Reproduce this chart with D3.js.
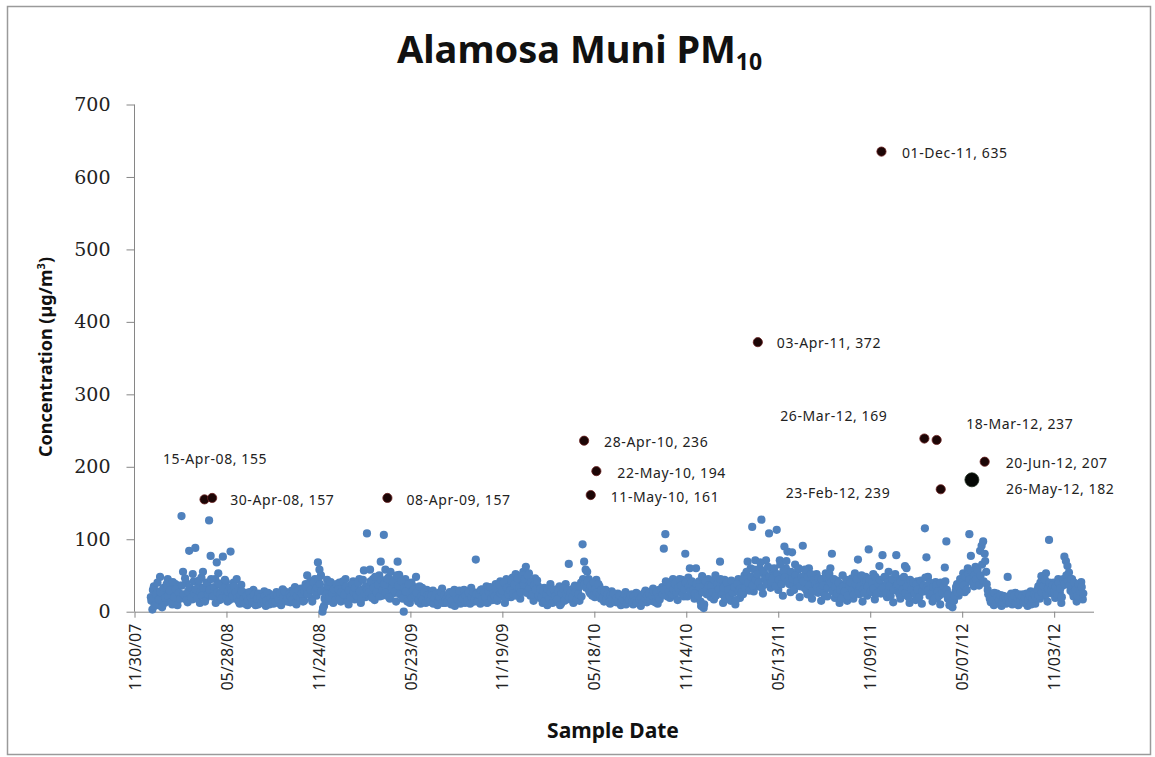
<!DOCTYPE html>
<html><head><meta charset="utf-8">
<script src="https://cdn.jsdelivr.net/npm/d3@7"></script>
<style>body{margin:0;background:#fff}svg{display:block}</style>
</head><body><svg id="c" width="1155" height="757"></svg>
<script>
// ---- data: PM10 samples (µg/m³); set A every 3 days from 1 Jan, set B every 3 days from 2 Jan ----
const pm2008=[20,3,35,14,28,9,48,22,31,12,26, 45,18,33,10,27,38,15,24,36, 132,55,21,40,13,84,30,17,42,88, 25,35,12,47,55,28,19,38,126,77, 30,22,45,68,53,16,36,76,27,41,14, 33,83,24,40,18,45,29,11,37, 20,14,26,9,18,23,12,30,16,21,10, 17,24,13,28,8,19,25,15,22,11, 18,27,12,21,9,31,16,23,14,26, 13,29,19,34,10,24,17,32,22,15,38, 50,26,42,18,35,45,22,68,58,50, 0,8,30,44,15,27,38,12,33,21];
const pm2009=[25,40,14,33,19,45,28,10,36,22,42, 17,38,26,45,12,31,57,20,108, 35,58,24,45,16,40,29,50,69,22, 106,58,33,47,18,38,25,44,14,69, 51,27,36,0,45,20,31,12,40,23,34, 48,19,28,11,33,22,15,30,18, 24,13,29,17,21,9,26,15,32,19,12, 22,16,27,10,20,30,14,24,18,11, 25,19,12,28,21,16,33,23,14,72, 20,27,11,31,17,24,35,13,22,29,16, 26,38,15,30,42,21,34,12,45,28, 36,20,47,31,52,25,40,18,44,55];
const pm2010=[30,62,42,53,22,38,15,46,27,35,19, 28,12,33,20,9,26,38,16,24, 14,31,21,35,11,27,18,38,23,66, 17,29,12,36,22,30,15,40,93,69, 58,55,45,25,38,32,20,44,28,35,18, 26,14,30,19,23,11,28,16,21, 13,25,18,9,22,15,27,12,20,17,24, 10,19,26,14,21,8,23,16,29,13, 20,27,15,32,18,24,11,30,22,34, 87,107,25,38,19,33,45,22,40,16,36, 28,44,21,80,35,47,60,26,39,18, 60,31,42,14,49,5,37,24,45,30];
const pm2011=[20,41,17,50,33,26,69,38,12,44,29, 22,36,15,40,27,10,33,45,19, 38,24,50,31,69,43,60,117,28,71, 46,35,60,127,25,52,71,40,108,33, 55,42,37,113,30,71,48,22,90,60,83, 50,27,82,44,65,36,58,20,47, 91,33,55,24,60,41,18,49,30,52,26, 38,15,45,28,53,21,40,60,80,34, 19,43,26,12,37,50,23,31,15,41, 28,46,18,53,33,72,24,40,14,35,48, 22,86,39,27,52,17,44,31,63,25, 78,36,47,20,55,30,42,13,38,78];
const pm2012=[29,45,18,34,23,63,60,40,12,37,26, 31,16,42,24,35,11,28,115,75, 48,22,36,14,30,41,19,27,10,33, 25,61,97,18,9,13,6,15,28,38, 22,45,31,53,27,40,60,107,77,48,35, 62,50,44,84,91,97,80,55,30, 24,13,20,9,17,25,12,19,8,22,15, 11,48,18,23,10,16,26,14,9,20, 17,24,12,21,8,15,28,13,19,11, 26,35,18,49,30,22,53,14,99,38,25, 40,19,33,45,27,12,36,76,70,63, 54,29,45,21,38,14,32,24,41,17];
const pm2008b=[15,30,8,24,40,17,27,6,33,19,38, 22,29,13,41,20,31,9,26,18, 36,24,46,16,28,34,20,52,25,31, 18,43,27,22,33,14,40,24,30,45, 21,34,12,27,39,24,18,32,44,20,28, 16,30,22,35,26,19,14,23,28, 17,11,22,15,27,19,13,24,9,18,25, 20,12,17,22,15,26,10,19,13,23, 14,22,17,25,12,20,28,15,19,24, 21,16,27,12,22,30,19,25,14,28,33, 24,36,30,14,40,28,33,45,38,28, 5,18,24,36,20,41,26,31,16,38];
const pm2009b=[31,18,27,42,23,35,14,29,20,38,26, 33,22,40,28,18,44,25,35,30, 27,42,19,33,48,26,37,21,44,30, 38,26,45,20,55,32,41,28,50,36, 24,42,18,33,28,14,38,25,19,30,22, 26,14,35,21,17,27,12,23,20, 15,22,11,19,25,14,20,28,12,23,17, 13,24,19,15,27,8,21,17,29,14, 18,30,22,15,26,11,20,27,17,24, 14,23,30,18,26,20,12,28,34,19,25, 21,32,19,37,25,29,40,18,33,24, 29,43,25,38,22,46,33,27,50,37];
const pm2010b=[45,26,50,33,41,24,36,30,43,22,31, 20,29,15,24,31,18,27,12,30, 22,17,28,9,25,32,15,24,30,19, 26,20,33,27,17,24,35,21,45,38, 33,42,28,36,22,40,31,26,38,24,30, 20,27,16,24,13,22,18,25,14, 19,15,22,13,17,24,10,20,16,23,14, 21,15,12,24,17,20,13,26,18,22, 25,16,22,28,13,26,20,17,29,24, 30,42,21,28,36,24,31,39,27,33,45, 36,24,31,40,21,35,28,42,30,25, 38,22,34,8,27,10,42,30,36,26];
const pm2011b=[35,27,44,22,38,31,45,24,33,18,40, 30,21,43,26,34,16,38,28,32, 27,45,33,55,40,29,48,36,58,44, 52,40,68,33,56,45,38,62,48,41, 46,60,35,52,44,65,38,56,47,70,42, 38,55,45,30,50,42,60,35,48, 42,58,30,48,36,52,28,44,38,33,46, 30,44,36,22,48,33,52,40,28,45, 34,25,40,30,18,35,28,44,22,36, 40,30,24,38,45,28,35,50,31,26,42, 35,45,28,40,32,48,25,38,44,30, 33,48,26,40,35,22,45,30,52,36];
const pm2012b=[38,24,42,30,48,26,35,20,44,31,40, 25,38,30,20,43,28,36,47,33, 30,40,25,34,18,36,28,22,40,26, 35,42,30,24,12,8,16,22,34,27, 33,28,40,36,48,30,52,44,56,40,50, 45,58,36,50,65,42,70,38,24, 18,22,15,26,11,20,16,23,13,19,21, 16,20,13,25,17,22,12,19,24,15, 21,14,19,25,16,22,10,18,24,20, 30,22,40,27,35,44,24,32,40,29,36, 28,35,24,40,32,20,45,38,50,42, 36,45,26,40,30,22,38,28,34,25];
const sampleYears=[2008,2009,2010,2011,2012];
const sampleStepDays=3;

// ---- data: flagged high values ----
const exceedDates=["2008-04-15","2008-04-30","2009-04-08","2010-04-28","2010-05-22","2010-05-11","2011-04-03","2011-12-01","2012-02-23","2012-03-18","2012-03-26","2012-06-20","2012-05-26"];
const exceedValues=[155,157,157,236,194,161,372,635,239,237,169,207,182];
const exceedLabels=["15-Apr-08, 155","30-Apr-08, 157","08-Apr-09, 157","28-Apr-10, 236","22-May-10, 194","11-May-10, 161","03-Apr-11, 372","01-Dec-11, 635","23-Feb-12, 239","18-Mar-12, 237","26-Mar-12, 169","20-Jun-12, 207","26-May-12, 182"];

// ---- axes ----
const yTicks=[0,100,200,300,400,500,600,700];
const xTickStart="2007-11-30", xTickStepDays=180, xTickCount=11;
const xDomain=["2007-11-30","2013-01-19"];

// ---- layout (label offsets from their point, pixels) ----
const labelDx=[-41.5,18,19,20,21,20,19,20.5,-138.7,29.5,-160.5,21,34];
const labelDy=[-40,2,2,1,2,2,1,2,54.5,-16,-73,1,9];

const parse=d3.utcParse("%Y-%m-%d");
const svg=d3.select("#c");
const x=d3.scaleUtc().domain(xDomain.map(parse)).range([134.5,1093.5]);
const y=d3.scaleLinear().domain([0,700]).range([611.7,104.5]);

// border
svg.append("rect").attr("x",7.5).attr("y",6.5).attr("width",1143).attr("height",748)
  .attr("fill","#fff").attr("stroke","#9a9a9a").attr("stroke-width",1.5);

// title
const t=svg.append("text").attr("x",397).attr("y",63).attr("text-anchor","start")
  .attr("font-family","'Noto Sans',sans-serif").attr("font-weight","bold").attr("font-size",38).attr("fill","#111");
t.append("tspan").text("Alamosa Muni PM");
t.append("tspan").attr("font-size",23).attr("dy",7).text("10");

// y axis
const yAxis=d3.axisLeft(y).tickValues(yTicks).tickSize(8).tickPadding(16).tickFormat(d3.format("d"));
const gy=svg.append("g").attr("transform","translate(134.5,0)").call(yAxis);
gy.select(".domain").attr("stroke","#868686").attr("d","M0,104.5V611.7");
gy.selectAll(".tick line").attr("stroke","#868686");
gy.selectAll(".tick text").attr("font-family","'DejaVu Serif',serif").attr("font-size",19).attr("fill","#222");

// x axis
const tickDates=d3.range(xTickCount).map(i=>d3.utcDay.offset(parse(xTickStart),i*xTickStepDays));
const xAxis=d3.axisBottom(x).tickValues(tickDates).tickSize(6).tickSizeOuter(0).tickFormat(d3.utcFormat("%m/%d/%y"));
const gx=svg.append("g").attr("transform","translate(0,611.7)").call(xAxis);
gx.select(".domain").attr("stroke","#868686");
gx.selectAll(".tick line").attr("stroke","#868686");
gx.selectAll(".tick text").attr("font-family","'Noto Sans',sans-serif").attr("font-size",16).attr("fill","#222")
  .attr("transform","rotate(-90)").attr("text-anchor","end").attr("x",-12).attr("y",0).attr("dy","0.35em");

// axis titles
svg.append("text").attr("transform","translate(52,357) rotate(-90)").attr("text-anchor","middle")
  .attr("font-family","'Noto Sans',sans-serif").attr("font-weight","bold").attr("font-size",18).attr("fill","#111")
  .html("Concentration (µg/m<tspan font-size='11' dy='-7'>3</tspan><tspan dy='7'>)</tspan>");
svg.append("text").attr("x",613).attr("y",738).attr("text-anchor","middle")
  .attr("font-family","'Noto Sans',sans-serif").attr("font-weight","bold").attr("font-size",21).attr("fill","#111")
  .text("Sample Date");

// samples
const samples=[];
function addSet(sets,offsetDays){
  sets.forEach((arr,k)=>{
    const start=d3.utcDay.offset(new Date(Date.UTC(sampleYears[k],0,1)),offsetDays);
    arr.forEach((v,i)=>samples.push({date:d3.utcDay.offset(start,i*sampleStepDays),value:v}));
  });
}
addSet([pm2008,pm2009,pm2010,pm2011,pm2012],0);
addSet([pm2008b,pm2009b,pm2010b,pm2011b,pm2012b],1);
svg.append("g").selectAll("circle").data(samples).join("circle")
  .attr("cx",d=>x(d.date)).attr("cy",d=>y(d.value)).attr("r",4.1).attr("fill","#4F81BD");

// flagged points
const flagged=exceedDates.map((d,i)=>({date:parse(d),value:exceedValues[i],label:exceedLabels[i],dx:labelDx[i],dy:labelDy[i]}));
const isBig=d=>d.label.startsWith("26-May");
svg.append("g").selectAll("circle").data(flagged).join("circle")
  .attr("cx",d=>x(d.date)).attr("cy",d=>y(d.value))
  .attr("r",d=>isBig(d)?7:4.6)
  .attr("fill",d=>isBig(d)?"#050805":"#1c0606")
  .attr("stroke",d=>isBig(d)?"#1a2a1a":"#6a2020").attr("stroke-width",0.8);
svg.append("g").selectAll("text").data(flagged).join("text")
  .attr("x",d=>x(d.date)+d.dx).attr("y",d=>y(d.value)+d.dy).attr("dy","0.35em")
  .attr("font-family","'Noto Sans',sans-serif").attr("font-size",14).attr("letter-spacing",0.6).attr("fill","#222")
  .text(d=>d.label);
</script></body></html>
